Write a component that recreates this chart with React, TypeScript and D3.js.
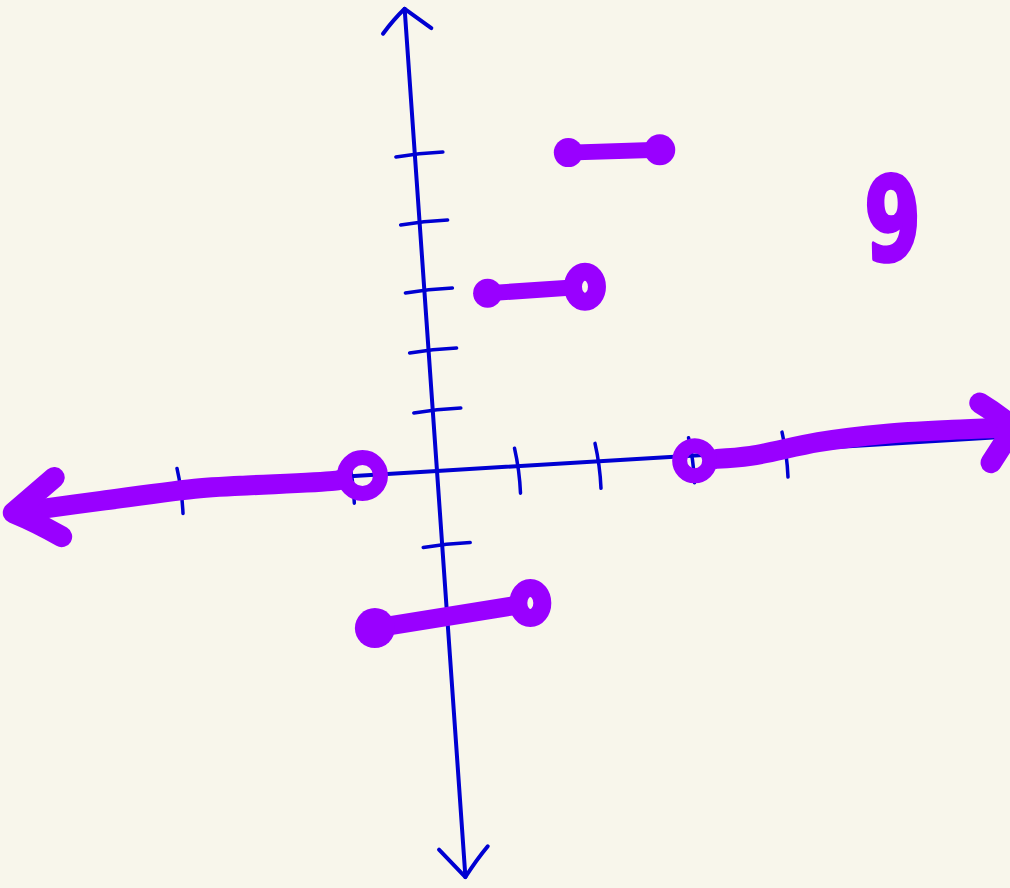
import React from "react";
import * as d3 from "d3";

const width = 1010;
const height = 888;

// tick marks drawn on the sketch
const xTicks = [-3, -1, 1, 2, 3, 4];
const yTicks = [-2, -1, 1, 2, 3, 4, 5];
const xAxisExtent = [-3.4, 6.45];
const yAxisExtent = [-5.45, 7.15];

// step pieces: start / end points
const segStart = [
  [1.9, 4.9],
  [0.78, 2.9],
  [-0.85, -2.05],
];
const segEnd = [
  [2.89, 4.86],
  [1.99, 2.91],
  [1.04, -1.84],
];
const segEndClosed = [true, false, false];

// the two rays along the x axis (start at an open circle)
const leftRay = [
  [-0.87, 0],
  [-1.21, -0.05],
  [-2.3, -0.04],
  [-2.77, -0.04],
  [-3.93, -0.13],
  [-4.75, -0.2],
];
const rightRay = [
  [3.03, -0.07],
  [3.63, -0.05],
  [4.36, 0.1],
  [5.07, 0.17],
  [5.8, 0.17],
  [6.39, 0.15],
];

const labelText = "9";
const labelAt = [5.32, 3.63];

const BG = "#f8f6eb";
const BLUE = "#0000d2";
const PURPLE = "#9900ff";

type Pt = [number, number];

function trimStart(pts: Pt[], r: number): Pt[] {
  const [a, b] = pts;
  const dx = b[0] - a[0];
  const dy = b[1] - a[1];
  const len = Math.hypot(dx, dy);
  const first: Pt = [a[0] + (dx / len) * r, a[1] + (dy / len) * r];
  return [first, ...pts.slice(1)];
}

function arrowHead(from: Pt, tip: Pt, len: number, angA: number, angB: number) {
  const ang = Math.atan2(from[1] - tip[1], from[0] - tip[0]);
  const a1 = ang + (angA * Math.PI) / 180;
  const a2 = ang - (angB * Math.PI) / 180;
  const p1 = [tip[0] + Math.cos(a1) * len, tip[1] + Math.sin(a1) * len];
  const p2 = [tip[0] + Math.cos(a2) * len, tip[1] + Math.sin(a2) * len];
  return `M${p1[0]},${p1[1]} Q${(p1[0] + tip[0]) / 2},${(p1[1] + tip[1]) / 2 - 2} ${tip[0]},${tip[1]} L${p2[0]},${p2[1]}`;
}

export default function App() {
  // uneven hand-drawn units, plus skewed axes
  const xs = d3.scaleLinear().domain([-3, 0, 2, 4]).range([-257, 0, 161, 348]);
  const ys = d3.scaleLinear().domain([-2, 0, 3, 5]).range([149, 0, -180, -316]);
  const ox = 437;
  const oy = 471;
  const pos = (x: number, y: number): Pt => {
    const a = xs(x);
    const b = ys(y);
    return [ox + a + 0.07 * b, oy + b - 0.06 * a];
  };

  const curve = d3.line<Pt>().curve(d3.curveCatmullRom.alpha(0.5));

  const ringR = 16;

  const xAxisPath = curve([pos(xAxisExtent[0], 0), pos(0, 0), pos(xAxisExtent[1], 0)]);
  const yTop = pos(0, yAxisExtent[1]);
  const yBot = pos(0, yAxisExtent[0]);
  const yAxisPath = curve([yTop, pos(0, 2.5), pos(0, 0), yBot]);

  const leftPts = leftRay.map((d) => pos(d[0], d[1]));
  const rightPts = rightRay.map((d) => pos(d[0], d[1]));

  const extendTip = (pts: Pt[], by: number): Pt => {
    const a = pts[pts.length - 2];
    const b = pts[pts.length - 1];
    const dx = b[0] - a[0];
    const dy = b[1] - a[1];
    const l = Math.hypot(dx, dy);
    return [b[0] + (dx / l) * by, b[1] + (dy / l) * by];
  };
  const leftTip = extendTip(leftPts, 18);
  const rightTip = extendTip(rightPts, 6);

  const label = pos(labelAt[0], labelAt[1]);

  return (
    <svg
      width={width}
      height={height}
      viewBox={`0 0 ${width} ${height}`}
      style={{ position: "absolute", left: 0, top: 0, display: "block" }}
    >
      <rect width={width} height={height} fill={BG} />

      {/* blue axes */}
      <g stroke={BLUE} fill="none" strokeLinecap="round" strokeLinejoin="round">
        <path d={xAxisPath || ""} strokeWidth={4} />
        <path d={yAxisPath || ""} strokeWidth={4} />
        <path d={arrowHead(pos(0, 6), yTop, 33, 45, 50)} strokeWidth={4} />
        <path d={arrowHead(pos(0, -4), yBot, 38, 40, 40)} strokeWidth={4} />
        <path d={arrowHead(pos(5, 0), pos(xAxisExtent[1], 0), 30, 40, 55)} strokeWidth={4} />
        {yTicks.map((t) => {
          const [cx, cy] = pos(0, t);
          return (
            <path
              key={`y${t}`}
              d={`M${cx - 19},${cy + 2} Q${cx + 4},${cy - 2} ${cx + 28},${cy - 3}`}
              strokeWidth={3.5}
            />
          );
        })}
        {xTicks.map((t) => {
          const [cx, cy] = pos(t, 0);
          return (
            <path
              key={`x${t}`}
              d={`M${cx - 3},${cy - 18} Q${cx + 2},${cy + 4} ${cx + 3},${cy + 27}`}
              strokeWidth={3.5}
            />
          );
        })}
      </g>

      {/* purple step function */}
      <g stroke={PURPLE} fill="none" strokeLinecap="round" strokeLinejoin="round">
        <path d={curve(trimStart(leftPts, ringR + 6)) || ""} strokeWidth={20} />
        <path d={curve([...trimStart(rightPts, ringR + 6), rightTip]) || ""} strokeWidth={20} />
        <path d={arrowHead(leftPts[leftPts.length - 2], leftTip, 54, 34, 33)} strokeWidth={21} />
        <path d={arrowHead(rightPts[rightPts.length - 2], rightTip, 42, 38, 55)} strokeWidth={21} />
        <circle cx={leftPts[0][0]} cy={leftPts[0][1]} r={ringR + 2} strokeWidth={15} />
        <circle cx={rightPts[0][0]} cy={rightPts[0][1]} r={ringR - 1} strokeWidth={15} />

        {segStart.map((s, i) => {
          const p0 = pos(s[0], s[1]);
          const p1 = pos(segEnd[i][0], segEnd[i][1]);
          const closed = segEndClosed[i];
          const body = closed ? [p0, p1] : trimStart([p1, p0], ringR).reverse();
          return (
            <g key={i}>
              <path d={curve(body as Pt[]) || ""} strokeWidth={i === 2 ? 19 : 16} />
              <circle cx={p0[0]} cy={p0[1]} r={i === 2 ? 20 : 14.5} fill={PURPLE} stroke="none" />
              {closed ? (
                <circle cx={p1[0]} cy={p1[1]} r={15.5} fill={PURPLE} stroke="none" />
              ) : (
                <ellipse cx={p1[0]} cy={p1[1]} rx={ringR - 4} ry={ringR - 1} strokeWidth={18} />
              )}
            </g>
          );
        })}
      </g>

      <text
        transform={`translate(${label[0]},${label[1]}) scale(0.7,1) rotate(-2)`}
        textAnchor="middle"
        dominantBaseline="central"
        fontFamily="DejaVu Sans"
        fontWeight="bold"
        fontSize={116}
        fill={PURPLE}
        stroke={PURPLE}
        strokeWidth={4}
        strokeLinejoin="round"
      >
        {labelText}
      </text>
    </svg>
  );
}
